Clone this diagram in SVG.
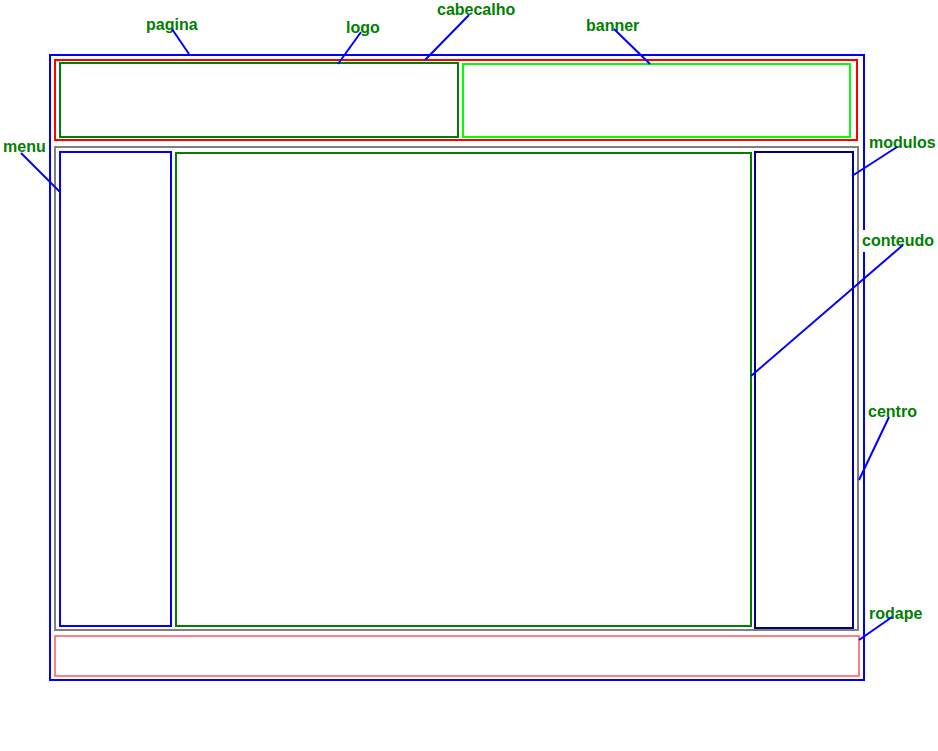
<svg xmlns="http://www.w3.org/2000/svg" width="938" height="751" viewBox="0 0 938 751">
<style>
rect.box{fill:none;stroke-width:2}
.lbl text{font-family:"Liberation Sans",Arial,sans-serif;font-weight:bold;font-size:16px;fill:#008000}
.lbl rect{fill:#fff}
#connectors line{stroke:#0000ff;stroke-width:2}
</style>
<rect width="938" height="751" fill="#fff"/>
<g id="pagina"><rect class="box" x="50" y="55" width="814" height="625" stroke="#0000ff"/></g>
<g id="cabecalho"><rect class="box" x="55" y="60" width="802" height="80" stroke="#ff0000"/></g>
<g id="logo"><rect class="box" x="60" y="63" width="398" height="74" stroke="#008000"/></g>
<g id="banner"><rect class="box" x="463" y="64" width="387" height="73" stroke="#00ff00"/></g>
<g id="centro"><rect class="box" x="55" y="147" width="803" height="483" stroke="#808080"/></g>
<g id="menu"><rect class="box" x="60" y="152" width="111" height="474" stroke="#0000ff"/></g>
<g id="conteudo"><rect class="box" x="176" y="153" width="575" height="473" stroke="#008000"/></g>
<g id="modulos"><rect class="box" x="755" y="152" width="98" height="476" stroke="#000080"/></g>
<g id="rodape"><rect class="box" x="55" y="636" width="804" height="40" stroke="#ff8080"/></g>
<g id="labels" class="lbl">
<text x="146" y="30">pagina</text>
<text x="346" y="33">logo</text>
<text x="437" y="15">cabecalho</text>
<text x="586" y="31">banner</text>
<text x="3" y="152">menu</text>
<text x="869" y="148">modulos</text>
<rect x="860" y="230" width="78" height="22"/>
<text x="862" y="246">conteudo</text>
<text x="868" y="417">centro</text>
<text x="869" y="619">rodape</text>
</g>
<g id="connectors">
<line x1="172" y1="29" x2="189" y2="54"/>
<line x1="361" y1="32" x2="338" y2="64"/>
<line x1="469" y1="15" x2="425" y2="60"/>
<line x1="614" y1="29" x2="650" y2="64"/>
<line x1="21" y1="153" x2="60" y2="192"/>
<line x1="897" y1="147" x2="852" y2="176"/>
<line x1="903" y1="245" x2="751" y2="376"/>
<line x1="889" y1="417" x2="859" y2="480"/>
<line x1="892" y1="617" x2="859" y2="640"/>
</g>
</svg>
